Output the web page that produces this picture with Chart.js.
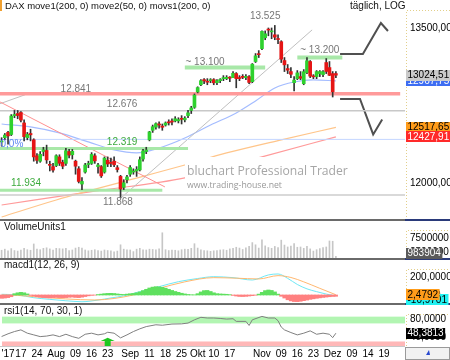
<!DOCTYPE html>
<html>
<head>
<meta charset="utf-8">
<script src="https://cdn.jsdelivr.net/npm/chart.js@4.4.1/dist/chart.umd.min.js"></script>
<style>
html,body{margin:0;padding:0;background:#fff;overflow:hidden}
canvas{display:block}
</style>
</head>
<body>
<canvas id="dax" width="450" height="360"></canvas>
<script>
// DAX daily bars 07.07.2017 - 04.12.2017
const open=[12380,12420,12470,12450,12630,12650,12660,12560,12420,12460,12400,
 12250,12200,12290,12300,12170,12150,12160,12240,12190,12180,
 12290,12260,12200,12130,11990,12100,12170,12180,12250,12150,
 12150,12100,12210,12190,12200,12140,12060,11960,12030,12080,
 12100,12110,12120,12220,12290,12400,12490,12520,12550,12530,
 12540,12570,12570,12580,12580,12600,12590,12630,12680,12710,
 12860,12930,12980,12960,12970,12980,12950,12970,12990,12990,
 13000,13000,13040,13000,13010,13000,13010,12960,13160,13230,
 13290,13400,13480,13460,13430,13390,13360,13170,13090,13060,
 12950,12990,13010,12940,13050,13160,13010,13010,13040,13030,
 13150,13100,13040,13040];
const high=[12420,12460,12480,12640,12680,12680,12670,12590,12470,12500,12410,
 12270,12290,12330,12350,12200,12180,12260,12260,12210,12320,
 12310,12310,12210,12150,12050,12180,12200,12280,12270,12180,
 12160,12240,12240,12230,12240,12160,12070,12030,12070,12160,
 12130,12150,12240,12310,12330,12480,12540,12560,12570,12550,
 12570,12590,12600,12620,12610,12630,12620,12680,12720,12840,
 12910,12980,12990,12990,12990,12990,12980,12990,13020,13020,
 13010,13060,13050,13020,13030,13030,13020,13140,13240,13270,
 13470,13470,13500,13500,13526,13430,13370,13200,13130,13100,
 13010,13070,13060,13080,13200,13170,13030,13070,13070,13070,
 13190,13160,13060,13060];
const low=[12340,12400,12360,12440,12610,12600,12570,12390,12400,12390,12200,
 12180,12190,12250,12180,12110,12100,12150,12160,12130,12160,
 12230,12220,12080,12000,11940,12090,12140,12170,12180,12090,
 12050,12090,12150,12150,12150,12100,11868,11940,12000,12060,
 12080,12060,12110,12200,12270,12390,12470,12500,12510,12490,
 12530,12540,12540,12570,12560,12550,12570,12610,12650,12700,
 12850,12920,12940,12930,12950,12930,12930,12950,12970,12980,
 12960,13000,12900,12970,12990,12980,12940,12950,13150,13200,
 13280,13380,13420,13390,13380,13340,13150,13060,13040,13000,
 12870,12980,12980,12930,13040,13000,12990,12990,13010,13010,
 13040,13020,12810,13000];
const close=[12389,12445,12437,12626,12641,12631,12587,12430,12452,12447,12240,
 12208,12264,12305,12212,12162,12118,12251,12181,12154,12298,
 12257,12292,12154,12014,12014,12165,12177,12263,12203,12165,
 12065,12229,12174,12180,12167,12123,11945,12002,12055,12142,
 12102,12124,12214,12296,12304,12475,12524,12553,12540,12519,
 12560,12561,12569,12600,12592,12595,12606,12657,12704,12828,
 12902,12970,12968,12955,12976,12949,12970,12982,12991,13003,
 12995,13043,12990,12991,13003,13013,12953,13133,13217,13229,
 13465,13440,13478,13469,13406,13382,13183,13127,13074,13033,
 12976,13047,12994,13059,13168,13015,13008,13060,13060,13059,
 13061,13023,12861,13024.51];
const volume=[3.2e6,3.6e6,3.0e6,3.8e6,3.1e6,2.9e6,3.3e6,3.9e6,3.4e6,3.2e6,5.5e6,
 3.6e6,3.4e6,3.9e6,4.1e6,3.7e6,3.3e6,3.9e6,3.8e6,3.7e6,3.9e6,
 3.1e6,3.3e6,4.0e6,4.3e6,4.0e6,3.3e6,3.0e6,3.2e6,3.4e6,3.1e6,
 2.9e6,3.3e6,3.1e6,3.0e6,2.6e6,2.9e6,5.2e6,3.6e6,3.4e6,3.3e6,
 2.7e6,3.6e6,3.9e6,3.4e6,3.3e6,3.6e6,3.5e6,3.4e6,3.7e6,9.6e6,
 3.4e6,3.1e6,3.3e6,3.2e6,3.0e6,3.4e6,3.6e6,3.5e6,3.9e6,5.6e6,
 4.0e6,3.4e6,3.1e6,3.0e6,2.8e6,3.0e6,3.1e6,3.3e6,3.4e6,3.2e6,
 3.7e6,3.9e6,4.3e6,4.0e6,3.5e6,4.1e6,4.6e6,6.0e6,5.2e6,4.0e6,
 7.0e6,4.8e6,4.2e6,3.9e6,4.6e6,4.2e6,6.9e6,5.1e6,4.4e6,4.7e6,
 5.6e6,4.3e6,4.4e6,3.9e6,4.6e6,3.7e6,2.9e6,3.4e6,3.8e6,4.2e6,
 4.4e6,6.6e6,6.5e6,983904];
const macdHist=[-38,-35,-30,-20,15,25,30,25,12,-5,-12,
 -20,-25,-30,-32,-33,-30,-28,-30,-32,-30,
 -26,-24,-28,-30,-25,-18,-10,-5,-2,5,
 10,15,18,19,17,12,8,6,10,14,
 18,25,35,50,65,80,90,95,93,88,
 78,65,52,40,30,20,12,6,3,2,
 15,35,50,52,40,25,15,12,10,8,
 4,-5,-12,-17,-18,-16,-12,-8,-3,10,
 30,50,57,52,35,10,-15,-35,-55,-68,
 -75,-76,-72,-65,-58,-50,-44,-38,-33,-28,
 -24,-20,-17,-15];
// sparse readings [bar, value]
const move1=[[0,11694],[17,11846],[44,12060],[57,12165],[70,12277],[87,12400],[104,12517.65]];
const move2=[[0,12550],[9,12522],[18,12465],[27,12380],[35,12305],[42,12277],[49,12323],[57,12417],
 [65,12541],[73,12656],[79,12772],[85,12898],[91,12957],[97,12977],[104,12967.75]];
const movs1=[[0,11801],[30,11930],[57,12046],[81,12240],[104,12427.91]];
const macdLine=[[0,8],[5,0],[10,-31],[15,-50],[20,-66],[25,-77],[30,-58],[34,-34],[38,-10],[43,38],
 [49,95],[55,152],[61,188],[66,209],[72,198],[78,171],[83,229],[86,240],[89,190],[92,120],[95,70],
 [98,38],[101,10],[104,-10.9701]];
const signalLine=[[0,0],[5,-5],[10,-19],[20,-45],[29,-57],[35,-40],[41,0],[49,76],[57,150],[66,198],
 [73,192],[80,183],[86,221],[90,200],[94,150],[99,76],[104,2.4792]];
const rsi=[[0,41],[2,47],[4,52],[6,55.7],[8,48.4],[10,44.6],[12,40.8],[14,42],[16,44.6],[18,40.8],
 [20,46],[22,40.8],[24,37],[26,46],[28,48.4],[30,44.6],[32,47],[33,50.4],[35,48.4],[37,38],[39,44.6],
 [41,52],[43,58],[45,63],[48,67],[50,66],[53,68.6],[56,69],[58,70.8],[60,78],[62,83.5],[64,82],
 [66,82],[68,81],[70,79.6],[72,80.4],[73,74.5],[76,74.5],[77,65.5],[78,78],[81,85.5],[83,82],
 [85,82],[86,76],[87,62],[88,55.7],[90,49.8],[92,44.6],[94,48.4],[96,53.5],[98,46],[100,48.4],
 [102,46],[103,38.5],[104,48.3813]];
// drawn support / resistance
const levels=[12841,12676,12404,12319,11934,11891,13100,13200];
const levelFrom=[-0.5,-0.5,-0.5,-0.5,-0.5,-0.5,57,92];
const levelTo=[124,125.5,125.5,58,50,125.5,82,106];
const trendDown=[[-0.5,12762],[50.8,11964]];
const trendUp=[[36.8,11855],[96.6,13480]];
const trendStub=[[-0.5,12745],[7.3,12832]];
const pathUp=[[105.3,13236],[112.4,13236],[118,13551],[120.2,13469]];
const pathDown=[[105.3,12791],[111.5,12791],[115.6,12451],[118.4,12593]];
const noteText=['12.841','12.676','12.319','11.934','11.868','~ 13.100','~ 13.200','13.525','0,0%'];
const noteAt=[23.1,37.5,37.5,7.6,36.2,63.3,99,82,3.2];
const noteVal=[12888,12742,12380,12000,11823,13148,13277,13624,12358];
const tickAt=[2,6,11,17,23,28,33,40,46,51,56,61,66,71,81,87,92,97,103,109,114,119];
const tickText=["'17","17","24","Aug","09","16","23","Sep","11","18","25","Okt","10","17","Nov","09","16","23","Dez","09","14","19"];

const F='"Liberation Sans", Arial, sans-serif';
const GREEN='#a8e8a8';
const pts=a=>a.map(p=>({x:p[0],y:p[1]}));
const comma=(v,d)=>v.toFixed(d).replace('.',',');
function line(data,color,width,axis,smooth){
 return {type:'line',data:pts(data),borderColor:color,borderWidth:width,pointRadius:0,
  yAxisID:axis||'y',order:5,tension:0,cubicInterpolationMode:smooth?'monotone':'default'};
}
const levelColor=['#ff9a9a','#c8c8c8','#c4d6ff',GREEN,GREEN,'#cccccc',GREEN,GREEN];
const levelWidth=[3.5,1.5,1,3,3,1.5,4,4];
const noteColor=['#777','#777','#3caa3c','#3caa3c','#777','#777','#777','#777','#5b86f0'];

const datasets=[];
levels.forEach((v,k)=>datasets.push(line([[levelFrom[k],v],[levelTo[k],v]],levelColor[k],levelWidth[k])));
datasets.push(line(trendDown,'#ff9090',1));
datasets.push(line(trendUp,'#c0c0c0',1));
datasets.push(line(trendStub,'#c0c0c0',1));
datasets.push(line(move1,'#ffc58a',1.2,'y',true));
datasets.push(line(movs1,'#ff9a9a',1.2,'y',true));
datasets.push(line(move2,'#a4bcff',1.2,'y',true));
datasets.push(line(pathUp,'#505050',2));
datasets.push(line(pathDown,'#505050',2));
datasets.push({type:'bar',data:close.map((c,i)=>({x:i,y:[low[i],high[i]]})),backgroundColor:'#333',
 barThickness:1,grouped:false,yAxisID:'y',order:2});
datasets.push({type:'bar',data:close.map((c,i)=>({x:i,y:[open[i],c]})),
 backgroundColor:close.map((c,i)=>c>=open[i]?'#2ed12e':'#e51515'),
 barThickness:3,minBarLength:1,grouped:false,yAxisID:'y',order:1});
datasets.push({type:'bar',data:volume.map((v,i)=>({x:i,y:v})),backgroundColor:'#c6c6c6',
 barThickness:1,grouped:false,yAxisID:'vol',order:1});
datasets.push({type:'bar',data:macdHist.map((v,i)=>({x:i,y:v})),
 backgroundColor:macdHist.map(v=>v>=0?'#5fe05f':'#ff8080'),
 barThickness:3.4,grouped:false,yAxisID:'macd',order:3});
datasets.push(line(signalLine,'#ffb870',1,'macd',true));
datasets.push(line(macdLine,'#6fe8f5',1,'macd',true));
datasets.push(line(rsi,'#808080',1,'rsi'));

function noPad(s){s.paddingTop=0;s.paddingBottom=0;s.paddingLeft=0;s.paddingRight=0;}
function yAxis(weight,min,max,ticks,fmt,type){
 return {type:type||'linear',position:'right',stack:'p',stackWeight:weight,min:min,max:max,bounds:'data',
  grid:{display:false,drawTicks:false},border:{display:false},
  afterBuildTicks:s=>{s.ticks=ticks.map(v=>({value:v}))},
  afterFit:s=>{s.width=45;noPad(s)},
  ticks:{autoSkip:false,padding:5,color:'#000',font:{family:F,size:10},callback:fmt}};
}

function txt(ctx,s,x,y,color,size,align){
 ctx.fillStyle=color;ctx.font=size+'px '+F;ctx.textAlign=align||'left';ctx.textBaseline='middle';
 ctx.fillText(s,x,y);
}
function tag(ctx,s,y,bg,fg){
 ctx.font='10px '+F;
 const w=ctx.measureText(s).width+3;
 ctx.fillStyle=bg;ctx.fillRect(406,Math.round(y-5.5),w,11);
 txt(ctx,s,407.5,y,fg,10);
}

const deco={
 id:'deco',
 beforeDraw(chart){
  const ctx=chart.ctx;
  ctx.save();
  ctx.fillStyle='#fff';ctx.fillRect(0,0,450,360);
  ctx.strokeStyle='#e2cf8a';ctx.lineWidth=1;ctx.setLineDash([1,2]);
  ['y','vol','macd','rsi'].forEach(id=>{
   const s=chart.scales[id];
   ctx.beginPath();
   ctx.moveTo(406.5,s.bottom);ctx.lineTo(406.5,s.top+10.5);ctx.lineTo(450,s.top+10.5);
   ctx.stroke();
  });
  ctx.restore();
 },
 beforeDatasetsDraw(chart){
  const ctx=chart.ctx,r=chart.scales.rsi,a=chart.chartArea;
  ctx.save();
  const g1=r.getPixelForValue(85),g2=r.getPixelForValue(70);
  ctx.fillStyle='#b2f5b2';ctx.fillRect(2,g1,a.right-2,g2-g1);
  const r1=r.getPixelForValue(30),r2=r.getPixelForValue(20);
  ctx.fillStyle='#ffb8b8';ctx.fillRect(2,r1,a.right-2,r2-r1);
  ctx.restore();
 },
 afterDatasetsDraw(chart){
  const ctx=chart.ctx,x=chart.scales.x,y=chart.scales.y,r=chart.scales.rsi;
  ctx.save();
  // watermark
  ctx.fillStyle='#fff';ctx.fillRect(185,157,190,35);
  ctx.font='12px "Open Sans", "DejaVu Sans", sans-serif';
  let w=ctx.measureText('bluchart Professional Trader').width;
  ctx.font=(12*161/w).toFixed(2)+'px "Open Sans", "DejaVu Sans", sans-serif';
  ctx.fillStyle='#a6a6a6';ctx.textAlign='left';ctx.textBaseline='middle';
  ctx.fillText('bluchart Professional Trader',187,172);
  ctx.font='8px "Open Sans", "DejaVu Sans", sans-serif';
  w=ctx.measureText('www.trading-house.net').width;
  ctx.font=(8*95/w).toFixed(2)+'px "Open Sans", "DejaVu Sans", sans-serif';
  ctx.fillStyle='#999';
  ctx.fillText('www.trading-house.net',187,186);
  // level notes
  noteText.forEach((s,k)=>txt(ctx,s,x.getPixelForValue(noteAt[k]),y.getPixelForValue(noteVal[k]),noteColor[k],10,'center'));
  // rsi buy arrow
  const cx=x.getPixelForValue(33),top=r.getPixelForValue(38.5),mid=r.getPixelForValue(31),bot=r.bottom;
  ctx.fillStyle='#1ec81e';
  ctx.beginPath();ctx.moveTo(cx-7,mid);ctx.lineTo(cx,top);ctx.lineTo(cx+7,mid);ctx.closePath();ctx.fill();
  ctx.fillRect(cx-3,mid,6,bot-mid);
  ctx.restore();
 },
 afterDraw(chart){
  const ctx=chart.ctx,S=chart.scales;
  ctx.save();
  // panel separators
  ['vol','macd','rsi'].forEach(id=>{
   const t=Math.round(S[id].top);
   ctx.fillStyle='#6a6a6a';ctx.fillRect(0,t-1,405,2);
   ctx.fillStyle='#2a3a7a';ctx.fillRect(405,t-1,45,2);
  });
  ctx.fillStyle='#c8c8c8';ctx.fillRect(0,Math.round(S.rsi.bottom),405,1);
  ctx.fillStyle='#f2f2f2';ctx.fillRect(405,347,45,13);
  ctx.strokeStyle='#9a9a9a';ctx.strokeRect(405.5,347.5,44,12);
  ctx.fillStyle='#2a4ad0';
  ctx.beginPath();ctx.moveTo(426,355);ctx.lineTo(429,350);ctx.lineTo(430,355);ctx.closePath();ctx.fill();
  // titles
  ctx.fillStyle='#f0a030';ctx.fillRect(0,0,2,11);
  txt(ctx,'DAX move1(200, 0) move2(50, 0) movs1(200, 0)',5,6,'#111',9.5);
  txt(ctx,'täglich, LOG',350,6,'#111',10);
  txt(ctx,'VolumeUnits1',4,S.vol.top+7,'#111',10);
  txt(ctx,'macd1(12, 26, 9)',4,S.macd.top+6,'#111',10);
  txt(ctx,'rsi1(14, 70, 30, 1)',4,S.rsi.top+7,'#111',10);
  // last value tags
  const last=a=>a[a.length-1];
  tag(ctx,comma(last(move2)[1],2),S.y.getPixelForValue(last(move2)[1]),'#3d6df2','#fff');
  tag(ctx,comma(last(close),2),S.y.getPixelForValue(last(close)),'#cacaca','#000');
  tag(ctx,comma(last(move1)[1],2),S.y.getPixelForValue(last(move1)[1]),'#ff9c1a','#000');
  tag(ctx,comma(last(movs1)[1],2),S.y.getPixelForValue(last(movs1)[1]),'#ff2a2a','#fff');
  tag(ctx,String(last(volume)),Math.min(S.vol.getPixelForValue(last(volume)),S.vol.bottom-6),'#5a5a5a','#fff');
  tag(ctx,comma(last(macdLine)[1],4),S.macd.getPixelForValue(last(macdLine)[1])+4,'#22f0f0','#000');
  tag(ctx,comma(last(signalLine)[1],4),S.macd.getPixelForValue(last(signalLine)[1]),'#ff9c1a','#000');
  tag(ctx,comma(last(rsi)[1],4),S.rsi.getPixelForValue(last(rsi)[1]),'#000','#fff');
  ctx.restore();
 }
};

new Chart(document.getElementById('dax'),{
 type:'bar',
 data:{datasets:datasets},
 plugins:[deco],
 options:{
  responsive:false,animation:false,devicePixelRatio:1,
  layout:{padding:0},
  plugins:{legend:{display:false},tooltip:{enabled:false}},
  scales:{
   x:{type:'linear',min:-0.5,max:125.5,offset:false,
    grid:{display:false,drawTicks:false},border:{display:false},
    afterBuildTicks:s=>{s.ticks=tickAt.map(v=>({value:v}))},
    afterFit:s=>{s.height=14;noPad(s)},
    ticks:{autoSkip:false,maxRotation:0,padding:2,color:'#000',font:{family:F,size:10},
     callback:(v,i)=>tickText[i]}},
   y:yAxis(220,11667,13790,[12000,12500,13000,13500],v=>comma(v,2),'logarithmic'),
   vol:yAxis(39,0,14.27e6,[2500000,7500000],v=>String(v)),
   macd:yAxis(45,-103,411,[0,200],v=>comma(v,4)),
   rsi:yAxis(42,20,113,[40,80],v=>comma(v,4))
  }
 }
});
</script>
</body>
</html>
